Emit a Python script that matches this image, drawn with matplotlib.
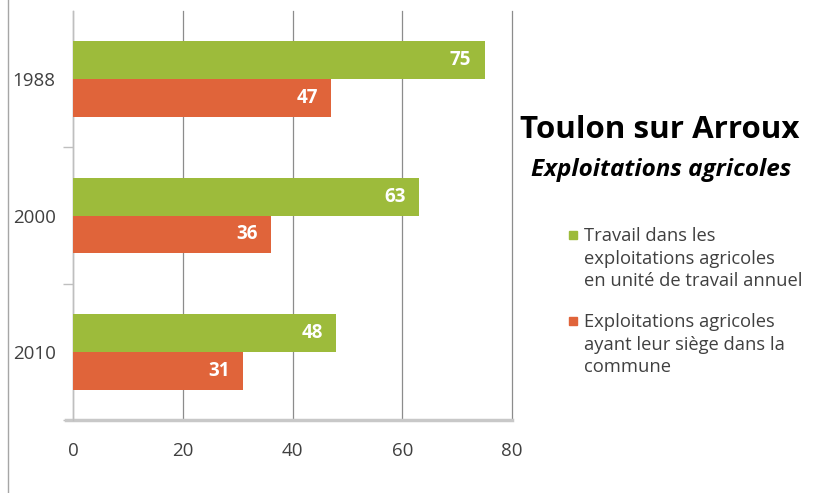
import matplotlib
matplotlib.use("Agg")
import matplotlib.pyplot as plt
from matplotlib.patches import Rectangle
from matplotlib.lines import Line2D
import numpy as np

years = ["1988", "2000", "2010"]
travail = [75, 63, 48]
exploitations = [47, 36, 31]
series_names = ["Travail dans les\nexploitations agricoles\nen unité de travail annuel",
                "Exploitations agricoles\nayant leur siège dans la\ncommune"]
title = "Toulon sur Arroux"
subtitle = "Exploitations agricoles"
xticks = [0, 20, 40, 60, 80]

green = "#9dbb3b"
red = "#e0643a"
font = "Open Sans"

fig = plt.figure(figsize=(8.15, 4.93), dpi=100)
ax = fig.add_axes([73/815, 1-420/493, (512-73)/815, (420-11)/493])

y = np.arange(len(years))
h = 0.277
b1 = ax.barh(y - h/2, travail, height=h, color=green, zorder=3)
b2 = ax.barh(y + h/2, exploitations, height=h, color=red, zorder=3)

for bars, vals in ((b1, travail), (b2, exploitations)):
    for bar, v in zip(bars, vals):
        ax.text(v - 2.4, bar.get_y() + bar.get_height()/2, str(v), ha="right", va="center",
                color="white", fontsize=13.5, fontweight="bold", family=font, zorder=4)

ax.set_ylim(2.5, -0.5)
ax.set_xlim(0, 80)
ax.set_xticks(xticks)
ax.set_xticklabels([str(t) for t in xticks], family=font, fontsize=13.5, color="#404040")
ax.set_yticks(y)
ax.set_yticklabels(years, family=font, fontsize=13.5, color="#404040")
ax.tick_params(axis="y", length=0, pad=12.5)
ax.tick_params(axis="x", length=0, pad=16)
# category boundary ticks
ax.set_yticks([0.5, 1.5, 2.5], minor=True)
ax.tick_params(axis="y", which="minor", length=7, color="#bfbfbf", width=1)

ax.grid(axis="x", color="#8c8c8c", linewidth=0.9, zorder=0)
for gl in ax.get_xgridlines():
    gl.set_clip_on(False)
for s in ["top", "right", "bottom"]:
    ax.spines[s].set_visible(False)
ax.spines["left"].set_color("#bfbfbf")
ax.spines["left"].set_linewidth(1)
ax.axhline(2.5, color="#c8c8c8", linewidth=2.5, zorder=2, clip_on=False, xmin=-7/439)

# chart frame left line
fig.add_artist(Line2D([8/815, 8/815], [0, 1], transform=fig.transFigure, color="#a6a6a6", linewidth=1))

fig.text(660/815, 1-130/493, title, ha="center", va="center", fontsize=22.5, fontweight="bold",
         family=font, color="black")
fig.text(661/815, 1-170/493, subtitle, ha="center", va="center", fontsize=17.5, fontweight="bold",
         style="italic", family=font, color="black")

for col, name, y0, sq in ((green, series_names[0], 239, 235), (red, series_names[1], 325, 321)):
    fig.add_artist(Rectangle((569/815, 1-(sq+4)/493), 8/815, 8/493, transform=fig.transFigure,
                             color=col))
    fig.text(584/815, 1-(y0-12)/493, name, ha="left", va="top", fontsize=13.2, family=font,
             color="#404040", linespacing=1.33)

fig.savefig("out.png", dpi=100, facecolor="white")
